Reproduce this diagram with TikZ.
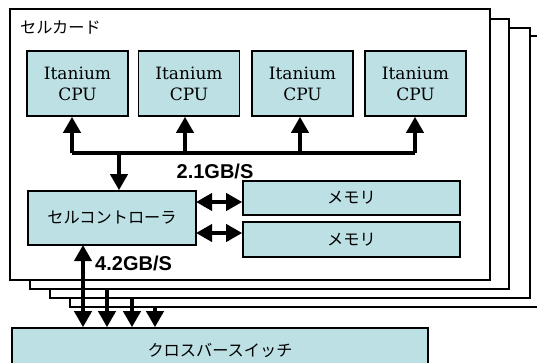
\documentclass[tikz,border=0pt]{standalone}
\usepackage{fontspec}
\setmainfont{DejaVu Serif}
\newfontfamily\jpfont{Noto Sans CJK JP}
\newfontfamily\bsans{Liberation Sans}
\usetikzlibrary{arrows.meta}
\definecolor{boxfill}{RGB}{188,224,227}
\tikzset{
  card/.style={draw, line width=1.6pt, fill=white, anchor=north west, inner sep=0pt},
  cpubox/.style={draw, line width=1.6pt, fill=boxfill, minimum width=101pt, minimum height=65pt, inner sep=0pt, align=center, font=\fontsize{17}{21}\selectfont},
  jpbox/.style={draw, line width=1.6pt, fill=boxfill, inner sep=0pt, font=\jpfont\fontsize{16.2}{19}\selectfont},
  bw/.style={font=\bsans\bfseries\fontsize{20}{23}\selectfont, inner sep=0pt},
  arr/.style={line width=3.8pt, -{Triangle[width=17pt,length=16pt]}},
  darr/.style={line width=3.8pt, {Triangle[width=17pt,length=16pt]}-{Triangle[width=17pt,length=16pt]}},
  bus/.style={line width=3.8pt}
}
\begin{document}
\begin{tikzpicture}[x=1pt,y=-1pt]
\useasboundingbox (0,0) rectangle (537,363);
\clip (0,0) rectangle (537,363);
% stacked cards
\node[card, minimum width=500pt, minimum height=271pt] (card4) at (69,35) {};
\node[card, minimum width=480pt, minimum height=270pt] (card3) at (49,27) {};
\node[card, minimum width=479pt, minimum height=270pt] (card2) at (29,18) {};
\node[card, minimum width=480pt, minimum height=271pt] (card1) at (9,8) {};
\node[anchor=west, inner sep=0pt, font=\jpfont\fontsize{16.2}{19}\selectfont] (cardlabel) at (20,27) {セルカード};
% CPUs
\node[cpubox] (cpu1) at (77.5,83.5) {Itanium\\CPU};
\node[cpubox] (cpu2) at (189,83.5) {Itanium\\CPU};
\node[cpubox] (cpu3) at (302.5,83.5) {Itanium\\CPU};
\node[cpubox] (cpu4) at (415.5,83.5) {Itanium\\CPU};
% controller and memories
\node[jpbox, minimum width=168pt, minimum height=54pt] (ctrl) at (112,218) {セルコントローラ};
\node[jpbox, minimum width=217pt, minimum height=34pt] (mem1) at (351.5,198) {メモリ};
\node[jpbox, minimum width=217pt, minimum height=35pt] (mem2) at (351.5,239.5) {メモリ};
% crossbar
\node[jpbox, minimum width=416pt, minimum height=44pt] (xbar) at (220,350) {クロスバースイッチ};
% bus
\coordinate (b1) at (72,153);
\coordinate (b2) at (185,153);
\coordinate (b3) at (300,153);
\coordinate (b4) at (415,153);
\coordinate (bd) at (119,153);
\draw[bus] (b1) -- (b4);
\draw[arr] (b1) -- (b1 |- cpu1.south);
\draw[arr] (b2) -- (b2 |- cpu2.south);
\draw[arr] (b3) -- (b3 |- cpu3.south);
\draw[arr] (b4) -- (b4 |- cpu4.south);
\draw[arr] (bd) -- (bd |- ctrl.north);
% controller to memory
\coordinate (m1) at (196,202);
\coordinate (m2) at (196,233);
\draw[darr] (m1) -- (m1 -| mem1.west);
\draw[darr] (m2) -- (m2 -| mem2.west);
% to crossbar
\coordinate (x1) at (83,245);
\coordinate (x2) at (107,288);
\coordinate (x3) at (132,297);
\coordinate (x4) at (155,306);
\draw[darr] (x1) -- (x1 |- xbar.north);
\draw[arr] (x2) -- (x2 |- xbar.north);
\draw[arr] (x3) -- (x3 |- xbar.north);
\draw[arr] (x4) -- (x4 |- xbar.north);
% labels
\node[bw] (l21) at (215,171) {2.1GB/S};
\node[bw, anchor=west] (l42) at (95,263) {4.2GB/S};
\end{tikzpicture}
\end{document}
